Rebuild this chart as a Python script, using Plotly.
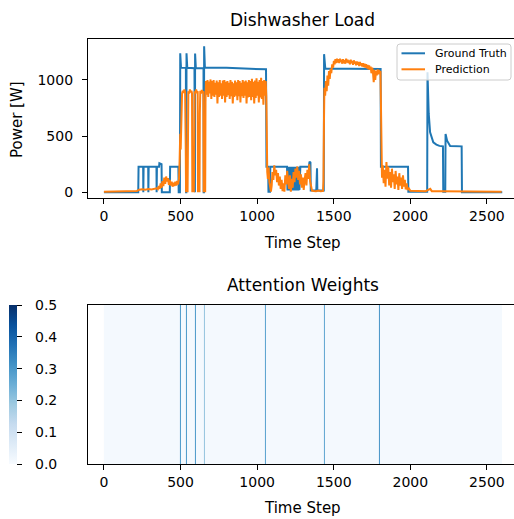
import plotly.graph_objects as go

# ---------------- data ----------------
gt_t = [0, 224, 226, 256, 257, 259, 289, 290, 292, 343,
        344, 346, 360, 362, 376, 378, 430, 432, 486, 488,
        496, 498, 503, 535, 536, 538, 539, 544, 591, 592,
        594, 595, 600, 650, 651, 653, 654, 659, 800, 950,
        1058, 1061, 1072, 1074, 1084, 1086, 1195, 1198, 1201, 1204,
        1207, 1210, 1213, 1216, 1219, 1222, 1225, 1228, 1231, 1234,
        1237, 1240, 1243, 1246, 1249, 1252, 1255, 1258, 1261, 1264,
        1267, 1270, 1273, 1276, 1279, 1282, 1338, 1342, 1348, 1350,
        1386, 1388, 1391, 1393, 1435, 1437, 1440, 1445, 1600, 1806,
        1808, 1985, 1987, 2110, 2112, 2120, 2129, 2140, 2150, 2170,
        2190, 2213, 2215, 2228, 2230, 2240, 2250, 2260, 2335, 2337,
        2600]
gt_v = [0, 0, 228, 228, 0, 228, 228, 0, 228, 228,
        0, 228, 228, 258, 250, 0, 0, 228, 228, 0,
        0, 1237, 1110, 1108, 0, 0, 1237, 1108, 1105, 0,
        0, 1235, 1106, 1105, 0, 0, 1300, 1110, 1108, 1100,
        1095, 228, 228, 5, 5, 228, 228, 15, 228, 20,
        228, 15, 228, 25, 228, 15, 228, 20, 228, 15,
        228, 20, 228, 15, 228, 25, 228, 15, 228, 20,
        228, 15, 228, 20, 228, 228, 228, 272, 265, 15,
        15, 213, 213, 15, 15, 1230, 1150, 1102, 1100, 1098,
        228, 228, 5, 5, 1068, 700, 534, 480, 445, 425,
        413, 409, 5, 5, 519, 460, 430, 412, 409, 0,
        0]

pred_t = [0, 60, 120, 180, 215, 230, 250, 270, 290, 310,
          330, 345, 352, 358, 364, 370, 376, 382, 388, 394,
          400, 406, 412, 418, 424, 430, 436, 442, 448, 454,
          460, 466, 472, 478, 484, 490, 494, 498, 501, 505,
          510, 515, 520, 525, 530, 534, 536, 546, 548, 551,
          556, 561, 566, 571, 575, 577, 587, 589, 592, 597,
          602, 607, 612, 614, 624, 626, 629, 634, 639, 644,
          649, 651, 661, 663, 666, 671, 676, 681, 686, 691,
          696, 701, 706, 711, 716, 721, 726, 731, 736, 741,
          746, 751, 756, 761, 766, 771, 776, 781, 786, 791,
          796, 801, 806, 811, 816, 821, 826, 831, 836, 841,
          846, 851, 856, 861, 866, 871, 876, 881, 886, 891,
          896, 901, 906, 911, 916, 921, 926, 931, 936, 941,
          946, 951, 956, 961, 966, 971, 976, 981, 986, 991,
          996, 1001, 1006, 1011, 1016, 1021, 1026, 1031, 1036, 1041,
          1046, 1051, 1056, 1060, 1063, 1066, 1070, 1075, 1080, 1085,
          1090, 1095, 1100, 1106, 1112, 1118, 1124, 1130, 1136, 1142,
          1148, 1154, 1160, 1166, 1172, 1178, 1184, 1190, 1196, 1202,
          1208, 1214, 1220, 1226, 1232, 1238, 1244, 1250, 1256, 1262,
          1268, 1274, 1280, 1286, 1292, 1298, 1304, 1310, 1316, 1322,
          1328, 1334, 1340, 1346, 1352, 1358, 1370, 1385, 1400, 1415,
          1430, 1433, 1436, 1439, 1444, 1449, 1454, 1459, 1464, 1469,
          1474, 1479, 1484, 1490, 1496, 1501, 1506, 1511, 1516, 1521,
          1526, 1531, 1536, 1541, 1546, 1551, 1556, 1561, 1566, 1571,
          1576, 1581, 1586, 1591, 1596, 1601, 1606, 1611, 1616, 1621,
          1626, 1631, 1636, 1641, 1646, 1651, 1656, 1661, 1666, 1671,
          1676, 1681, 1686, 1691, 1696, 1701, 1706, 1711, 1716, 1721,
          1726, 1731, 1736, 1741, 1746, 1751, 1756, 1761, 1766, 1771,
          1776, 1781, 1786, 1791, 1796, 1801, 1805, 1808, 1811, 1815,
          1820, 1826, 1832, 1838, 1844, 1850, 1856, 1862, 1868, 1874,
          1880, 1886, 1892, 1898, 1904, 1910, 1916, 1922, 1928, 1934,
          1940, 1946, 1952, 1958, 1964, 1970, 1976, 1982, 1988, 1995,
          2000, 2050, 2100, 2130, 2140, 2200, 2300, 2400, 2500, 2596]
pred_v = [5, 6, 8, 9, 12, 22, 26, 22, 28, 24,
          30, 36, 28, 55, 30, 80, 40, 100, 55, 130,
          75, 140, 95, 125, 65, 110, 60, 95, 50, 85,
          55, 95, 60, 100, 70, 120, 280, 520, 380, 700,
          880, 905, 885, 915, 890, 400, 10, 10, 600, 900,
          880, 915, 890, 905, 880, 10, 10, 650, 900, 880,
          915, 890, 900, 10, 10, 700, 905, 880, 910, 885,
          900, 10, 10, 800, 990, 870, 1000, 850, 985, 880,
          1005, 830, 990, 860, 1000, 850, 975, 870, 995, 790,
          980, 850, 1000, 860, 970, 830, 995, 860, 1000, 800,
          985, 850, 990, 865, 975, 830, 1000, 855, 985, 790,
          970, 850, 995, 860, 980, 820, 1000, 855, 990, 800,
          975, 855, 1000, 840, 985, 860, 995, 790, 980, 845,
          1000, 850, 990, 820, 1010, 850, 985, 790, 995, 840,
          1015, 860, 985, 800, 1000, 845, 1020, 830, 990, 780,
          1000, 860, 990, 850, 400, 180, 120, 220, 90, 40,
          5, 60, 180, 110, 240, 150, 200, 90, 170, 60,
          140, 30, 110, 10, 80, 5, 150, 70, 190, 100,
          30, 150, 5, 120, 40, 180, 90, 210, 130, 230,
          110, 190, 70, 160, 40, 130, 20, 110, 170, 60,
          200, 120, 250, 100, 30, 15, 12, 10, 15, 10,
          12, 100, 600, 930, 860, 990, 900, 1040, 950, 1080,
          1010, 1100, 1060, 1140, 1110, 1170, 1140, 1185, 1150, 1190,
          1155, 1185, 1150, 1190, 1160, 1180, 1145, 1185, 1150, 1175,
          1145, 1190, 1155, 1180, 1150, 1175, 1140, 1180, 1150, 1170,
          1135, 1175, 1145, 1165, 1130, 1165, 1135, 1160, 1125, 1160,
          1130, 1150, 1120, 1150, 1115, 1145, 1110, 1140, 1105, 1135,
          1095, 1130, 1090, 1120, 1060, 1110, 1070, 980, 1090, 1000,
          1080, 1040, 1095, 1050, 1090, 1060, 1080, 700, 250, 130,
          240, 80, 200, 50, 270, 120, 230, 60, 180, 40,
          210, 90, 160, 30, 190, 70, 140, 20, 170, 60,
          130, 30, 150, 50, 110, 25, 80, 20, 40, 15,
          14, 12, 10, 30, 10, 9, 7, 6, 5, 5]

assert len(gt_t) == len(gt_v)
assert len(pred_t) == len(pred_v)

attn_t = [500, 539, 600, 654, 1057, 1439, 1801]
attn_w = [0.30, 0.30, 0.30, 0.20, 0.28, 0.27, 0.31]
attn_base = 0.008
attn_span = 6
n_steps = 2600

x_ticks = [0, 500, 1000, 1500, 2000, 2500]
y_ticks = [0, 500, 1000]
cb_ticks = [0.0, 0.1, 0.2, 0.3, 0.4, 0.5]
cb_max = 0.5
legend_names = ["Ground Truth", "Prediction"]
colors = ["#1f77b4", "#ff7f0e"]

blues = [[0.0, '#f7fbff'], [0.125, '#deebf7'], [0.25, '#c6dbef'], [0.375, '#9ecae1'],
         [0.5, '#6baed6'], [0.625, '#4292c6'], [0.75, '#2171b5'], [0.875, '#08519c'],
         [1.0, '#08306b']]

# heatmap bricks
edges = [0]
zrow = []
for t, w in zip(attn_t, attn_w):
    edges += [t - attn_span / 2, t + attn_span / 2]
    zrow += [attn_base, w]
edges.append(n_steps)
zrow.append(attn_base)

FONT = "DejaVu Sans"
W, H = 514, 519
ML, MR, MT, MB = 88, 0, 39, 55
PW = W - ML - MR
PH = H - MT - MB

def px(x):
    return (x - ML) / PW

def py(y):
    return (H - MB - y) / PH

fig = go.Figure()
fig.add_trace(go.Scatter(x=gt_t, y=gt_v, mode="lines", name=legend_names[0],
                         line=dict(color=colors[0], width=2), xaxis="x", yaxis="y",
                         showlegend=False))
fig.add_trace(go.Scatter(x=pred_t, y=pred_v, mode="lines", name=legend_names[1],
                         line=dict(color=colors[1], width=2), xaxis="x", yaxis="y",
                         showlegend=False))
fig.add_trace(go.Heatmap(x=edges, y=[0, 1], z=[zrow], zmin=0, zmax=cb_max,
                         colorscale=blues, xaxis="x2", yaxis="y2", showlegend=False,
                         hoverinfo="skip",
                         colorbar=dict(x=px(9.3), xanchor="left", xref="paper",
                                       y=0, yanchor="bottom", yref="paper",
                                       len=py(305), lenmode="fraction",
                                       thickness=8, thicknessmode="pixels",
                                       xpad=0, ypad=0, outlinewidth=0,
                                       ticks="outside", ticklen=5, tickwidth=1.2,
                                       tickcolor="black", tickvals=cb_ticks,
                                       showticklabels=False)))

xr = [-104, -104 + PW / 0.1532]
axis_common = dict(showline=True, linecolor="black", linewidth=1.2, ticks="outside",
                   ticklen=5, tickwidth=1.2, tickcolor="black", showgrid=False,
                   zeroline=False, tickfont=dict(family=FONT, size=14, color="black"))

fig.update_layout(
    width=W, height=H, margin=dict(l=ML, r=MR, t=MT, b=MB),
    paper_bgcolor="white", plot_bgcolor="white",
    font=dict(family=FONT, color="black"),
    xaxis=dict(domain=[0, 1], anchor="y", range=xr, tickvals=x_ticks, mirror=True, **axis_common),
    yaxis=dict(domain=[py(198), 1], anchor="x", range=[-51, 1365], tickvals=y_ticks,
               ticklabelstandoff=6, **axis_common),
    xaxis2=dict(domain=[0, 1], anchor="y2", range=xr, tickvals=x_ticks, mirror=True, **axis_common),
    yaxis2=dict(domain=[0, py(305)], anchor="x2", range=[0, 1], showticklabels=False,
                showline=True, linecolor="black", linewidth=1.2, ticks="", showgrid=False,
                zeroline=False),
    showlegend=False,
)

# legend box (rounded) drawn manually
lx0, lx1, ly0, ly1, r = 397, 511, 44, 80, 3
path = (f"M {px(lx0 + r)},{py(ly0)} L {px(lx1 - r)},{py(ly0)} "
        f"Q {px(lx1)},{py(ly0)} {px(lx1)},{py(ly0 + r)} "
        f"L {px(lx1)},{py(ly1 - r)} Q {px(lx1)},{py(ly1)} {px(lx1 - r)},{py(ly1)} "
        f"L {px(lx0 + r)},{py(ly1)} Q {px(lx0)},{py(ly1)} {px(lx0)},{py(ly1 - r)} "
        f"L {px(lx0)},{py(ly0 + r)} Q {px(lx0)},{py(ly0)} {px(lx0 + r)},{py(ly0)} Z")
shapes = [dict(type="path", path=path, xref="paper", yref="paper",
               fillcolor="rgba(255,255,255,0.8)", line=dict(color="#cccccc", width=1))]
ann = []
for i, (name, c) in enumerate(zip(legend_names, colors)):
    yy = 53.3 + 16 * i
    shapes.append(dict(type="line", xref="paper", yref="paper",
                       x0=px(401.5), x1=px(425), y0=py(yy), y1=py(yy),
                       line=dict(color=c, width=2)))
    ann.append(dict(text=name, x=px(432.5), y=py(yy), xanchor="left", font=dict(size=11)))
fig.update_layout(shapes=shapes)

cx = px(302.5)
ann += [
    dict(text="Dishwasher Load", x=cx, y=py(20), font=dict(size=17)),
    dict(text="Attention Weights", x=cx, y=py(285), font=dict(size=17)),
    dict(text="Time Step", x=cx, y=py(243), font=dict(size=15)),
    dict(text="Time Step", x=cx, y=py(508), font=dict(size=15)),
    dict(text="Power [W]", x=px(17), y=py(120), font=dict(size=15), textangle=-90),
]
for v in cb_ticks:
    ann.append(dict(text=f"{v:.1f}", x=px(32.5), y=(v / cb_max) * py(305),
                    xanchor="left", font=dict(size=14)))
for a in ann:
    a.update(xref="paper", yref="paper", showarrow=False, yanchor="middle")
    a.setdefault("xanchor", "center")
    a["font"].update(family=FONT, color="black")
fig.update_layout(annotations=ann)

fig.write_html("out.html")
